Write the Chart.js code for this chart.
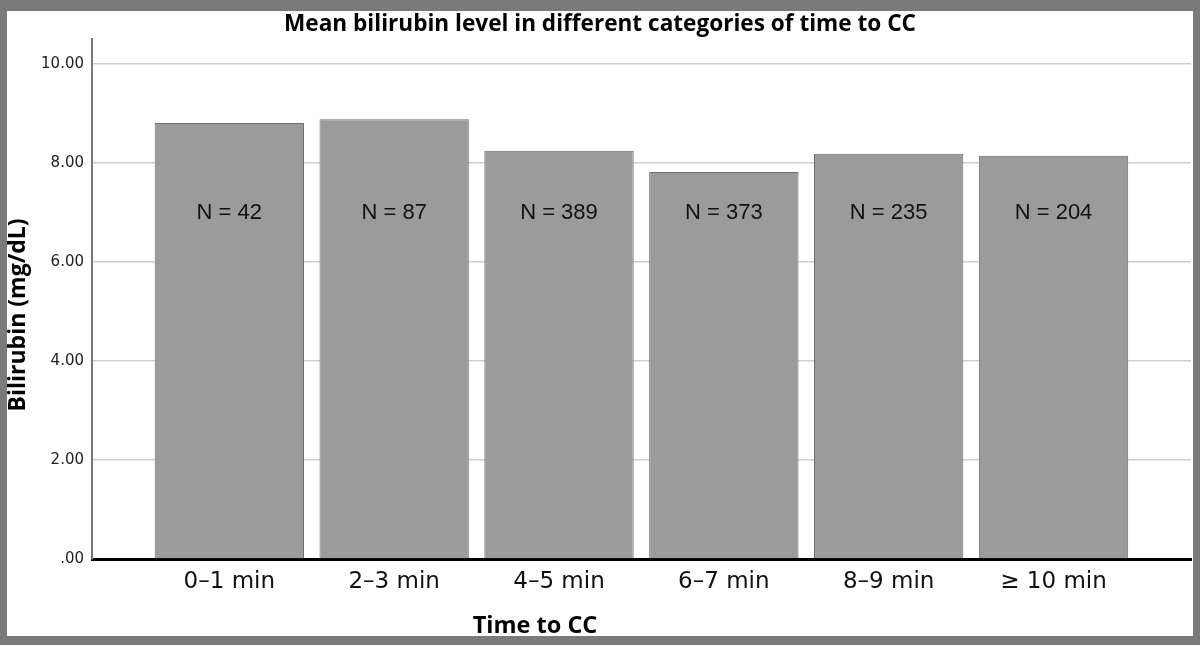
<!DOCTYPE html>
<html>
<head>
<meta charset="utf-8">
<script src="https://cdn.jsdelivr.net/npm/chart.js@4/dist/chart.umd.min.js"></script>
<style>
  html, body { margin: 0; padding: 0; background: #7a7a7a; }
  canvas { display: block; }
</style>
</head>
<body>
<canvas id="c" width="1200" height="645"></canvas>
<script>
const chartTitle = "Mean bilirubin level in different categories of time to CC";
const xAxisTitle = "Time to CC";
const yAxisTitle = "Bilirubin (mg/dL)";
const categories = ["0\u20131 min", "2\u20133 min", "4\u20135 min", "6\u20137 min", "8\u20139 min", "\u2265 10 min"];
const meanBilirubin = [8.81, 8.89, 8.25, 7.82, 8.19, 8.15];
const nLabels = ["N = 42", "N = 87", "N = 389", "N = 373", "N = 235", "N = 204"];
const yTickValues = [0, 2, 4, 6, 8, 10];
const nLabelLevel = 7;

const framePlugin = {
  id: "frame",
  beforeDraw(chart) {
    const ctx = chart.ctx;
    ctx.save();
    ctx.fillStyle = "#7a7a7a";
    ctx.fillRect(0, 0, chart.width, chart.height);
    ctx.fillStyle = "#ffffff";
    ctx.fillRect(7, 11, 1186, 625);
    ctx.restore();
  },
  afterDraw(chart) {
    const ctx = chart.ctx;
    const xs = chart.scales.x, ys = chart.scales.y;
    ctx.save();
    ctx.fillStyle = "#111";
    ctx.font = "22px 'Liberation Sans', Arial, sans-serif";
    ctx.textAlign = "center";
    ctx.textBaseline = "middle";
    const yN = ys.getPixelForValue(nLabelLevel);
    nLabels.forEach((t, i) => {
      ctx.fillText(t, xs.getPixelForValue(i), yN);
    });
    ctx.fillStyle = "#000";
    ctx.font = "bold 22.6px 'Open Sans', sans-serif";
    ctx.textBaseline = "alphabetic";
    ctx.fillText(chartTitle, 600, 31);
    ctx.font = "bold 23.5px 'Open Sans', sans-serif";
    ctx.fillText(xAxisTitle, 535, 633);
    ctx.font = "bold 23px 'Open Sans', sans-serif";
    ctx.translate(25, 315);
    ctx.rotate(-Math.PI / 2);
    ctx.fillText(yAxisTitle, 0, 0);
    ctx.restore();
  }
};

new Chart(document.getElementById("c"), {
  type: "bar",
  data: {
    datasets: [{
      data: categories.map((c, i) => ({ x: i, y: meanBilirubin[i] })),
      backgroundColor: "#9b9b9b",
      borderColor: "#6e6e6e",
      borderWidth: 1,
      barPercentage: 0.906,
      categoryPercentage: 1
    }]
  },
  options: {
    responsive: false,
    animation: false,
    devicePixelRatio: 1,
    layout: { padding: { top: 39, right: 9, left: 0, bottom: 0 } },
    plugins: { legend: { display: false }, tooltip: { enabled: false }, title: { display: false } },
    scales: {
      x: {
        type: "linear",
        offset: false,
        bounds: "data",
        min: -0.833,
        max: 5.834,
        afterFit(s) { s.height = 86; },
        afterBuildTicks(s) { s.ticks = categories.map((c, i) => ({ value: i })); },
        grid: { display: false, drawTicks: false, offset: false },
        border: { display: true, color: "#000", width: 3 },
        ticks: {
          padding: 9,
          color: "#111",
          font: { family: "'DejaVu Sans', sans-serif", size: 23 },
          callback: (v) => categories[v] ?? ""
        }
      },
      y: {
        min: 0,
        max: 10.51,
        afterFit(s) { s.width = 92; },
        afterBuildTicks(s) { s.ticks = yTickValues.map(v => ({ value: v })); },
        grid: { color: "#cfcfcf", lineWidth: 1.5, drawTicks: false },
        border: { display: true, color: "#777", width: 2 },
        ticks: {
          padding: 8,
          color: "#222",
          font: { family: "'DejaVu Sans', sans-serif", size: 15 },
          callback: (v) => v === 0 ? ".00" : v.toFixed(2)
        }
      }
    }
  },
  plugins: [framePlugin]
});
</script>
</body>
</html>
